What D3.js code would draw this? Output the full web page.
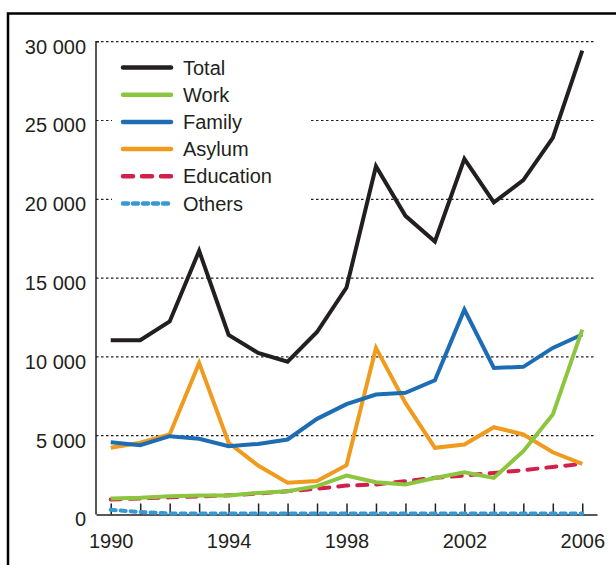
<!DOCTYPE html>
<meta charset="utf-8">
<style>
body { margin: 0; background: #fff; }
svg { display: block; font-family: "Liberation Sans", Arial, sans-serif; }
.axis text { font-size: 20px; fill: #231f20; }
.axis path, .axis line { stroke: #231f20; stroke-width: 1.5px; }
.grid line { stroke: #231f20; stroke-width: 1.2px; stroke-dasharray: 2.5,2.5; }
.series { fill: none; stroke-width: 4px; }
.legend text { font-size: 20px; fill: #231f20; }
</style>
<svg width="616" height="565"></svg>

<script src="https://cdn.jsdelivr.net/npm/d3@7"></script>
<script>

var years = [1990, 1991, 1992, 1993, 1994, 1995, 1996, 1997, 1998, 1999, 2000, 2001, 2002, 2003, 2004, 2005, 2006];
var yearTicks = [1990, 1994, 1998, 2002, 2006];
var valueTicks = [0, 5000, 10000, 15000, 20000, 25000, 30000];

var total     = [11050, 11060, 12250, 16730, 11400, 10250, 9700, 11580, 14400, 22100, 18950, 17320, 22570, 19800, 21220, 23900, 29430];
var work      = [1010, 1060, 1160, 1200, 1200, 1370, 1480, 1800, 2470, 2050, 1900, 2320, 2680, 2320, 4020, 6340, 11730];
var family    = [4590, 4400, 4970, 4800, 4330, 4480, 4760, 6070, 7000, 7610, 7720, 8520, 13000, 9300, 9370, 10570, 11420];
var asylum    = [4230, 4550, 5080, 9620, 4550, 3110, 2010, 2120, 3130, 10570, 7080, 4230, 4440, 5540, 5080, 3950, 3210];
var education = [950, 1020, 1090, 1150, 1220, 1330, 1480, 1630, 1840, 1900, 2120, 2330, 2470, 2640, 2810, 3020, 3210];
var others    = [300, 160, 70, 60, 60, 60, 60, 70, 70, 70, 70, 70, 70, 60, 60, 60, 60];

var series = [
  {name: "Total",     values: total,     color: "#231f20", dash: null},
  {name: "Work",      values: work,      color: "#8cc63e", dash: null},
  {name: "Family",    values: family,    color: "#1c6db4", dash: null},
  {name: "Asylum",    values: asylum,    color: "#f09a1e", dash: null},
  {name: "Education", values: education, color: "#d2204c", dash: "10,9"},
  {name: "Others",    values: others,    color: "#3799d3", dash: "5,5"}
];
// drawing order (bottom to top)
var drawOrder = ["Total", "Education", "Asylum", "Family", "Work", "Others"];

var svg = d3.select("svg");

var x = d3.scaleLinear().domain([1989.5, 2006.5]).range([96, 597]);
var y = d3.scaleLinear().domain([0, 30000]).range([514.5, 41.7]);

// outer frame (left + top)
svg.append("path")
    .attr("d", "M8,565V13.5H616")
    .attr("fill", "none")
    .attr("stroke", "#000")
    .attr("stroke-width", 2.5);

// gridlines
svg.append("g")
    .attr("class", "grid")
  .selectAll("line")
  .data(valueTicks.filter(function(d) { return d > 0; }))
  .enter().append("line")
    .attr("x1", 96)
    .attr("x2", 595)
    .attr("y1", function(d) { return y(d); })
    .attr("y2", function(d) { return y(d); });

// x axis
var xAxis = svg.append("g")
    .attr("class", "axis axis--x")
    .attr("transform", "translate(0," + y(0) + ")")
    .call(d3.axisBottom(x).tickValues(years).tickSizeInner(-11).tickSizeOuter(0)
      .tickFormat(function(d) { return yearTicks.indexOf(d) >= 0 ? d : ""; }));
xAxis.selectAll("text").attr("y", 33).attr("dy", 0);

// y axis
var yAxis = svg.append("g")
    .attr("class", "axis axis--y")
    .attr("transform", "translate(96,0)")
    .call(d3.axisLeft(y).tickValues(valueTicks).tickSize(0).tickPadding(10)
      .tickFormat(function(d) { return d3.format(",")(d).replace(",", " "); }));
yAxis.select(".domain").remove();
yAxis.selectAll("text").attr("y", 5);
svg.append("path")
    .attr("d", "M99," + y(30000) + "H96V" + y(0))
    .attr("fill", "none")
    .attr("stroke", "#231f20")
    .attr("stroke-width", 1.5);

// legend
var legend = svg.append("g").attr("class", "legend");
legend.append("rect")
    .attr("x", 112).attr("y", 50)
    .attr("width", 197).attr("height", 166)
    .attr("fill", "#fff");

var rows = legend.selectAll("g.row")
  .data(series)
  .enter().append("g")
    .attr("class", "row")
    .attr("transform", function(d, i) { return "translate(0," + (67.5 + i * 27.2) + ")"; });

rows.append("line")
    .attr("x1", 123).attr("x2", 171)
    .attr("stroke", function(d) { return d.color; })
    .attr("stroke-width", 4.5)
    .attr("stroke-linecap", "round")
    .attr("stroke-dasharray", function(d) { return d.dash; });

rows.append("text")
    .attr("x", 183)
    .attr("dy", "0.35em")
    .text(function(d) { return d.name; });

// lines
var line = d3.line()
    .x(function(d, i) { return x(years[i]); })
    .y(function(d) { return y(d); });

var ordered = drawOrder.map(function(n) { return series.find(function(s) { return s.name === n; }); });

svg.append("g")
  .selectAll("path")
  .data(ordered)
  .enter().append("path")
    .attr("class", "series")
    .attr("d", function(d) { return line(d.values); })
    .attr("stroke", function(d) { return d.color; })
    .attr("stroke-width", function(d) { return d.name === "Others" ? 4.5 : 4; })
    .attr("stroke-linecap", function(d) { return d.dash ? "round" : "butt"; })
    .attr("stroke-dasharray", function(d) { return d.dash; });

</script>
